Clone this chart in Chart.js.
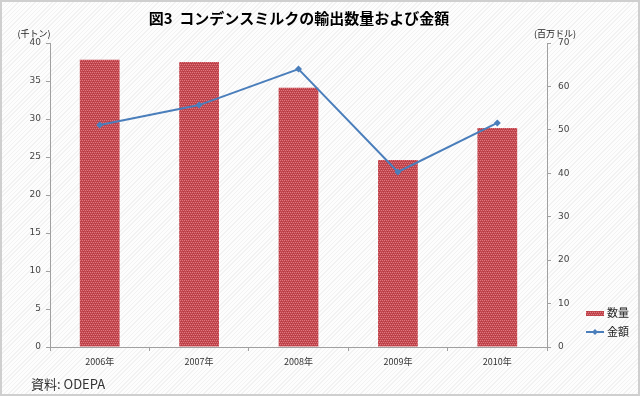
<!DOCTYPE html>
<html><head><meta charset="utf-8">
<script src="https://cdn.jsdelivr.net/npm/chart.js@4"></script>
<style>
html,body{margin:0;padding:0;}
body{width:640px;height:396px;overflow:hidden;
background:#fdfdfd repeating-linear-gradient(135deg,#fdfdfd 0px,#fdfdfd 2px,#f2f2f2 2px,#f2f2f2 3px);}
#wrap{position:absolute;left:0;top:0;width:640px;height:396px;box-sizing:border-box;border:2px solid #cfcfcf;}
canvas{position:absolute;left:0;top:0;}
</style></head>
<body><div id="wrap"></div><canvas id="c" width="640" height="396"></canvas>
<script>
const categories = ['2006年','2007年','2008年','2009年','2010年'];
const quantity = [37.8, 37.5, 34.1, 24.6, 28.8];   // 千トン
const value = [51.1, 55.7, 64.0, 40.3, 51.6];      // 百万ドル
const leftTicks = [0,5,10,15,20,25,30,35,40];
const rightTicks = [0,10,20,30,40,50,60,70];
const titleText = '図3  コンデンスミルクの輸出数量および金額';
const leftUnit = '(千トン)';
const rightUnit = '(百万ドル)';
const sourceText = '資料: ODEPA';

function makeBarPattern(){
  const p = document.createElement('canvas'); p.width = 4; p.height = 4;
  const g = p.getContext('2d');
  g.fillStyle = '#c2464d'; g.fillRect(0,0,4,4);
  g.fillStyle = '#de7880';
  g.fillRect(0,0,1,1); g.fillRect(2,0,1,1); g.fillRect(1,2,1,1); g.fillRect(3,2,1,1);
  g.fillStyle = '#b03a42';
  g.fillRect(1,1,1,1); g.fillRect(3,3,1,1);
  return g.createPattern(p,'repeat');
}
const ctx = document.getElementById('c').getContext('2d');
const barFill = makeBarPattern();
const lineColor = '#4a7ebb';

const deco = {
  id:'deco',
  afterDraw(chart){
    const c = chart.ctx;
    c.save();
    c.fillStyle = '#000';
    c.textAlign = 'center'; c.textBaseline = 'middle';
    c.font = 'bold 15px "Noto Sans CJK JP"';
    c.fillText(titleText, 299, 18);
    c.font = '9px "Noto Sans CJK JP"';
    c.fillStyle = '#222';
    c.fillText(leftUnit, 34, 34);
    c.fillText(rightUnit, 555, 34);
    c.textAlign = 'left';
    c.font = '13px "Noto Sans CJK JP"';
    c.fillStyle = '#333';
    c.fillText(sourceText, 31, 384);
    // legend
    c.font = '11px "Noto Sans CJK JP"';
    c.fillStyle = barFill;
    c.fillRect(586, 311, 18, 5);
    c.fillStyle = '#222';
    c.fillText('数量', 607, 313);
    c.strokeStyle = lineColor; c.lineWidth = 2;
    c.beginPath(); c.moveTo(586, 332); c.lineTo(604, 332); c.stroke();
    c.fillStyle = lineColor;
    c.beginPath(); c.moveTo(595,329); c.lineTo(598,332); c.lineTo(595,335); c.lineTo(592,332); c.closePath(); c.fill();
    c.fillStyle = '#222';
    c.fillText('金額', 607, 332);
    c.restore();
  }
};

new Chart(ctx, {
  data: {
    labels: categories,
    datasets: [
      {type:'line', label:'金額', data:value, yAxisID:'y2', borderColor:lineColor, backgroundColor:lineColor,
       borderWidth:2, pointStyle:'rectRot', pointRadius:3.5, pointBorderWidth:0, tension:0, order:0},
      {type:'bar', label:'数量', data:quantity, yAxisID:'y', backgroundColor:barFill,
       categoryPercentage:1.0, barPercentage:0.4, order:1}
    ]
  },
  options: {
    responsive:false, animation:false, devicePixelRatio:1,
    layout:{padding:{top:43,left:0,right:0,bottom:0}},
    plugins:{legend:{display:false}, title:{display:false}, tooltip:{enabled:false}},
    scales:{
      x:{
        grid:{display:true, drawOnChartArea:false, offset:true, tickLength:4, color:'#a0a0a0'},
        border:{color:'#a0a0a0'},
        ticks:{color:'#333', font:{size:9, family:'"Noto Sans CJK JP"'}, padding:5},
        afterFit(s){ s.height = 49; }
      },
      y:{
        position:'left', min:0, max:40,
        afterBuildTicks(s){ s.ticks = leftTicks.map(v=>({value:v})); },
        grid:{display:true, drawOnChartArea:false, tickLength:4, color:'#a0a0a0'},
        border:{color:'#a0a0a0'},
        ticks:{color:'#444', font:{size:9, family:'"DejaVu Sans"'}, padding:5},
        afterFit(s){ s.width = 50; }
      },
      y2:{
        position:'right', min:0, max:70,
        afterBuildTicks(s){ s.ticks = rightTicks.map(v=>({value:v})); },
        grid:{display:true, drawOnChartArea:false, tickLength:4, color:'#a0a0a0'},
        border:{color:'#a0a0a0'},
        ticks:{color:'#444', font:{size:9, family:'"DejaVu Sans"'}, padding:7},
        afterFit(s){ s.width = 93; }
      }
    }
  },
  plugins:[deco]
});
</script>
</body></html>
